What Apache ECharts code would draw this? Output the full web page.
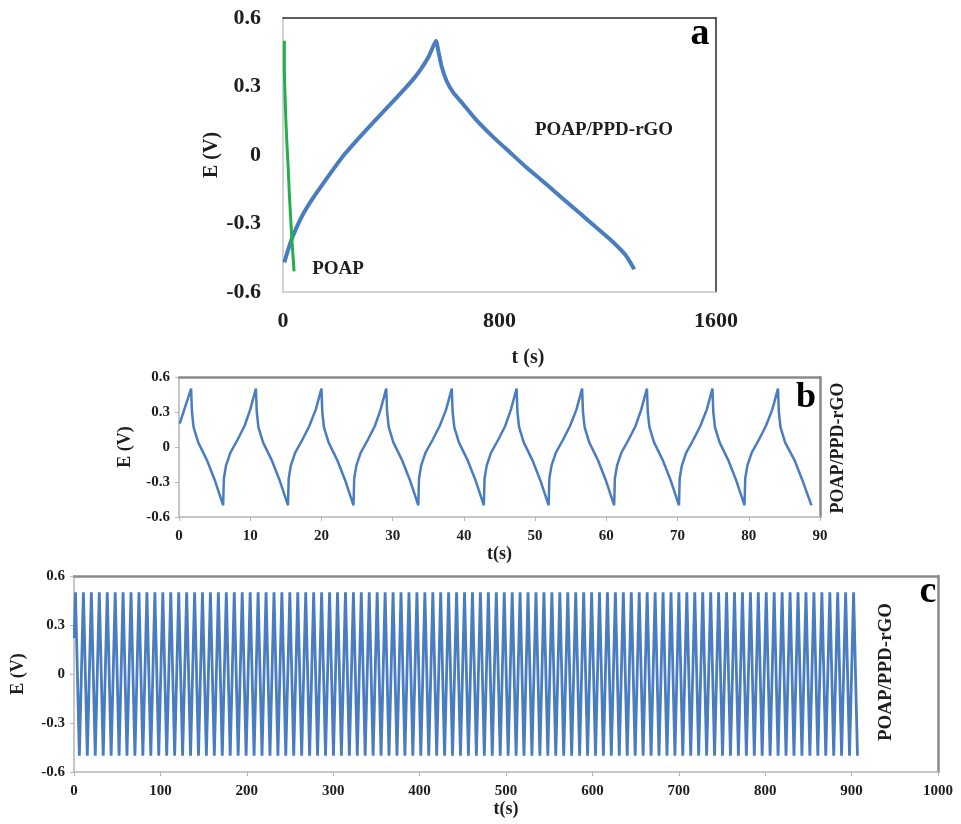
<!DOCTYPE html>
<html>
<head>
<meta charset="utf-8">
<title>Galvanostatic charge–discharge of POAP and POAP/PPD-rGO</title>
<script src="https://cdn.jsdelivr.net/npm/echarts@6/dist/echarts.min.js"></script>
<style>
  html, body { margin: 0; padding: 0; background: #ffffff; }
  #chart { width: 961px; height: 824px; }
</style>
</head>
<body>
<div id="chart"></div>
<script>
// (a) single charge–discharge curves, t in s, E in V
const aCompositeCurve = [
  [5, -0.47], [15, -0.43], [30, -0.375], [50, -0.318], [76, -0.255], [110, -0.19], [146, -0.129],
  [185, -0.064], [229, 0.005], [280, 0.074], [331, 0.14], [390, 0.214], [446, 0.285],
  [480, 0.33], [509, 0.375], [540, 0.435], [566, 0.5],
  [573, 0.461], [586, 0.389], [605, 0.323], [630, 0.272], [662, 0.228], [713, 0.155],
  [780, 0.075], [840, 0.01], [900, -0.055], [967, -0.122], [1030, -0.187], [1095, -0.253],
  [1160, -0.32], [1222, -0.384], [1265, -0.437], [1298, -0.5]
];
const aPoapCurve = [
  [5, 0.5], [5, 0.39], [7, 0.28], [10, 0.17], [14, 0.06], [19, -0.05],
  [23, -0.16], [28, -0.27], [34, -0.39], [41, -0.51]
];

// (b) first ten cycles
const bCurve = [
  [0.1, 0.20], [0.9, 0.35], [1.7, 0.50],
  [1.82, 0.30], [2.05, 0.17], [2.7, 0.04], [3.9, -0.11], [5.0, -0.28], [6.2, -0.50],
  [6.3, -0.27], [6.6, -0.16], [7.2, -0.05], [8.2, 0.06], [9.2, 0.18], [10.0, 0.32], [10.8, 0.50],
  [10.92, 0.30], [11.15, 0.17], [11.8, 0.04], [13.0, -0.11], [14.1, -0.28], [15.3, -0.50],
  [15.4, -0.27], [15.7, -0.16], [16.3, -0.05], [17.3, 0.06], [18.3, 0.18], [19.2, 0.32], [20.0, 0.50],
  [20.12, 0.30], [20.35, 0.17], [21.0, 0.04], [22.2, -0.11], [23.3, -0.28], [24.5, -0.50],
  [24.6, -0.27], [24.9, -0.16], [25.5, -0.05], [26.5, 0.06], [27.5, 0.18], [28.3, 0.32], [29.1, 0.50],
  [29.22, 0.30], [29.45, 0.17], [30.1, 0.04], [31.3, -0.11], [32.4, -0.28], [33.6, -0.50],
  [33.7, -0.27], [34.0, -0.16], [34.6, -0.05], [35.6, 0.06], [36.6, 0.18], [37.5, 0.32], [38.3, 0.50],
  [38.42, 0.30], [38.65, 0.17], [39.3, 0.04], [40.5, -0.11], [41.6, -0.28], [42.8, -0.50],
  [42.9, -0.27], [43.2, -0.16], [43.8, -0.05], [44.8, 0.06], [45.8, 0.18], [46.6, 0.32], [47.4, 0.50],
  [47.52, 0.30], [47.75, 0.17], [48.4, 0.04], [49.6, -0.11], [50.7, -0.28], [51.9, -0.50],
  [52.0, -0.27], [52.3, -0.16], [52.9, -0.05], [53.9, 0.06], [54.9, 0.18], [55.8, 0.32], [56.6, 0.50],
  [56.72, 0.30], [56.95, 0.17], [57.6, 0.04], [58.8, -0.11], [59.9, -0.28], [61.1, -0.50],
  [61.2, -0.27], [61.5, -0.16], [62.1, -0.05], [63.1, 0.06], [64.1, 0.18], [64.9, 0.32], [65.7, 0.50],
  [65.82, 0.30], [66.05, 0.17], [66.7, 0.04], [67.9, -0.11], [69.0, -0.28], [70.2, -0.50],
  [70.3, -0.27], [70.6, -0.16], [71.2, -0.05], [72.2, 0.06], [73.2, 0.18], [74.1, 0.32], [74.9, 0.50],
  [75.02, 0.30], [75.25, 0.17], [75.9, 0.04], [77.1, -0.11], [78.2, -0.28], [79.4, -0.50],
  [79.5, -0.27], [79.8, -0.16], [80.4, -0.05], [81.4, 0.06], [82.4, 0.18], [83.3, 0.32], [84.1, 0.50],
  [84.22, 0.30], [84.45, 0.17], [85.1, 0.04], [86.4, -0.11], [87.5, -0.28], [88.8, -0.50]
];

// (c) long-term cycling: turning points of each cycle
const cStart = [0.3, 0.22];
const cPeakTimes = [
  1.7, 10.9, 20.1, 29.3, 38.5, 47.7, 56.8, 66.0, 75.2, 84.4,
  93.6, 102.8, 112.0, 121.2, 130.4, 139.6, 148.7, 157.9, 167.1, 176.3,
  185.5, 194.7, 203.9, 213.1, 222.3, 231.5, 240.6, 249.8, 259.0, 268.2,
  277.4, 286.6, 295.8, 305.0, 314.2, 323.4, 332.5, 341.7, 350.9, 360.1,
  369.3, 378.5, 387.7, 396.9, 406.1, 415.3, 424.4, 433.6, 442.8, 452.0,
  461.2, 470.4, 479.6, 488.8, 498.0, 507.2, 516.3, 525.5, 534.7, 543.9,
  553.1, 562.3, 571.5, 580.7, 589.9, 599.1, 608.2, 617.4, 626.6, 635.8,
  645.0, 654.2, 663.4, 672.6, 681.8, 691.0, 700.1, 709.3, 718.5, 727.7,
  736.9, 746.1, 755.3, 764.5, 773.7, 782.9, 792.0, 801.2, 810.4, 819.6,
  828.8, 838.0, 847.2, 856.4, 865.6, 874.8, 883.9, 893.1, 902.3
];
const cTroughTimes = [
  6.2, 15.4, 24.6, 33.8, 43.0, 52.2, 61.3, 70.5, 79.7, 88.9,
  98.1, 107.3, 116.5, 125.7, 134.9, 144.1, 153.2, 162.4, 171.6, 180.8,
  190.0, 199.2, 208.4, 217.6, 226.8, 236.0, 245.1, 254.3, 263.5, 272.7,
  281.9, 291.1, 300.3, 309.5, 318.7, 327.9, 337.0, 346.2, 355.4, 364.6,
  373.8, 383.0, 392.2, 401.4, 410.6, 419.8, 428.9, 438.1, 447.3, 456.5,
  465.7, 474.9, 484.1, 493.3, 502.5, 511.7, 520.8, 530.0, 539.2, 548.4,
  557.6, 566.8, 576.0, 585.2, 594.4, 603.6, 612.7, 621.9, 631.1, 640.3,
  649.5, 658.7, 667.9, 677.1, 686.3, 695.5, 704.6, 713.8, 723.0, 732.2,
  741.4, 750.6, 759.8, 769.0, 778.2, 787.4, 796.5, 805.7, 814.9, 824.1,
  833.3, 842.5, 851.7, 860.9, 870.1, 879.3, 888.4, 897.6, 906.8
];
const cPeakE = 0.5;
const cTroughE = -0.5;

const cCurve = [cStart];
cPeakTimes.forEach(function (t, i) {
  cCurve.push([t, cPeakE]);
  cCurve.push([cTroughTimes[i], cTroughE]);
});

const SERIF = "'Liberation Serif', 'DejaVu Serif', serif";
const INK = '#1e1e1e';
const BLUE = '#4a7dbf';
const GREEN = '#22b04a';

// plain numbers: no thousands separator, one decimal at most on E
function fmtT(v) { return String(Math.round(v)); }
function fmtE(v) { return String(Math.round(v * 10) / 10); }

function tickLabel(size, fmt, margin) {
  return { fontFamily: SERIF, fontWeight: 'bold', fontSize: size, color: INK, formatter: fmt, margin: margin };
}
function nameStyle(size) {
  return { fontFamily: SERIF, fontWeight: 'bold', fontSize: size, color: INK };
}
// frame edges that carry no labels (top / right of each panel)
function frameX(gridIndex, range, color, width) {
  return {
    type: 'value', gridIndex: gridIndex, position: 'top', min: range[0], max: range[1],
    axisLine: { show: true, onZero: false, lineStyle: { color: color, width: width } },
    axisTick: { show: false }, axisLabel: { show: false }, splitLine: { show: false }
  };
}
function frameY(gridIndex, color, width) {
  return {
    type: 'value', gridIndex: gridIndex, position: 'right', min: -0.6, max: 0.6,
    axisLine: { show: true, onZero: false, lineStyle: { color: color, width: width } },
    axisTick: { show: false }, axisLabel: { show: false }, splitLine: { show: false }
  };
}

const chart = echarts.init(document.getElementById('chart'), null, { renderer: 'canvas' });

const option = {
  backgroundColor: '#ffffff',
  animation: false,
  grid: [
    { left: 283, top: 18, width: 433, height: 274 },
    { left: 179, top: 377, width: 641, height: 140 },
    { left: 74, top: 576, width: 864, height: 196 }
  ],
  xAxis: [
    { // a
      type: 'value', gridIndex: 0, min: 0, max: 1600, interval: 800,
      axisLine: { show: true, onZero: false, lineStyle: { color: '#c4c4c4', width: 1.5 } },
      axisTick: { show: false },
      axisLabel: tickLabel(22, fmtT, 18),
      splitLine: { show: false }
    },
    { // b
      type: 'value', gridIndex: 1, min: 0, max: 90, interval: 10,
      axisLine: { show: true, onZero: false, lineStyle: { color: '#b5b5b5', width: 1.5 } },
      axisTick: { show: true, length: 4, lineStyle: { color: '#b5b5b5' } },
      axisLabel: tickLabel(15, fmtT, 12),
      splitLine: { show: false },
      name: 't(s)', nameLocation: 'middle', nameGap: 27, nameTextStyle: nameStyle(18)
    },
    { // c
      type: 'value', gridIndex: 2, min: 0, max: 1000, interval: 100,
      axisLine: { show: true, onZero: false, lineStyle: { color: '#b5b5b5', width: 1.5 } },
      axisTick: { show: true, length: 4, lineStyle: { color: '#b5b5b5' } },
      axisLabel: tickLabel(15, fmtT, 12),
      splitLine: { show: false },
      name: 't(s)', nameLocation: 'middle', nameGap: 28, nameTextStyle: nameStyle(18)
    },
    frameX(0, [0, 1600], '#2a2a2a', 1.5),
    frameX(1, [0, 90], '#8a8a8a', 2.5),
    frameX(2, [0, 1000], '#8a8a8a', 2.5)
  ],
  yAxis: [
    { // a
      type: 'value', gridIndex: 0, min: -0.6, max: 0.6, interval: 0.3,
      axisLine: { show: true, onZero: false, lineStyle: { color: '#c4c4c4', width: 1.5 } },
      axisTick: { show: false },
      axisLabel: tickLabel(22, fmtE, 22),
      splitLine: { show: false },
      name: 'E (V)', nameLocation: 'middle', nameRotate: 90, nameGap: 32, nameTextStyle: nameStyle(20)
    },
    { // b
      type: 'value', gridIndex: 1, min: -0.6, max: 0.6, interval: 0.3,
      axisLine: { show: true, onZero: false, lineStyle: { color: '#b5b5b5', width: 1.5 } },
      axisTick: { show: true, length: 4, lineStyle: { color: '#b5b5b5' } },
      axisLabel: tickLabel(15, fmtE, 9),
      splitLine: { show: false },
      name: 'E (V)', nameLocation: 'middle', nameRotate: 90, nameGap: 45, nameTextStyle: nameStyle(18)
    },
    { // c
      type: 'value', gridIndex: 2, min: -0.6, max: 0.6, interval: 0.3,
      axisLine: { show: true, onZero: false, lineStyle: { color: '#b5b5b5', width: 1.5 } },
      axisTick: { show: true, length: 4, lineStyle: { color: '#b5b5b5' } },
      axisLabel: tickLabel(15, fmtE, 9),
      splitLine: { show: false },
      name: 'E (V)', nameLocation: 'middle', nameRotate: 90, nameGap: 47, nameTextStyle: nameStyle(18)
    },
    frameY(0, '#2a2a2a', 1.5),
    frameY(1, '#8a8a8a', 2.5),
    frameY(2, '#8a8a8a', 2.5)
  ],
  series: [
    {
      name: 'POAP/PPD-rGO', type: 'line', xAxisIndex: 0, yAxisIndex: 0,
      data: aCompositeCurve, showSymbol: false, smooth: 0.2,
      lineStyle: { color: BLUE, width: 4 }, z: 3
    },
    {
      name: 'POAP', type: 'line', xAxisIndex: 0, yAxisIndex: 0,
      data: aPoapCurve, showSymbol: false, smooth: 0.2,
      lineStyle: { color: GREEN, width: 3 }, z: 4
    },
    {
      name: 'POAP/PPD-rGO (b)', type: 'line', xAxisIndex: 1, yAxisIndex: 1,
      data: bCurve, showSymbol: false, smooth: false,
      lineStyle: { color: BLUE, width: 2.5 }
    },
    {
      name: 'POAP/PPD-rGO (c)', type: 'line', xAxisIndex: 2, yAxisIndex: 2,
      data: cCurve, showSymbol: false, smooth: false, sampling: false,
      lineStyle: { color: BLUE, width: 2.8 }
    }
  ],
  graphic: [
    // panel a annotations
    { type: 'text', x: 528, y: 358, style: { text: 't (s)', font: "bold 20px " + SERIF, fill: INK, align: 'center', verticalAlign: 'middle' } },
    { type: 'text', x: 700, y: 34, style: { text: 'a', font: "bold 38px " + SERIF, fill: '#000', align: 'center', verticalAlign: 'middle' } },
    { type: 'text', x: 338, y: 269, style: { text: 'POAP', font: "bold 19px " + SERIF, fill: INK, align: 'center', verticalAlign: 'middle' } },
    { type: 'text', x: 604, y: 130, style: { text: 'POAP/PPD-rGO', font: "bold 19px " + SERIF, fill: INK, align: 'center', verticalAlign: 'middle' } },
    // panel b annotations
    { type: 'text', x: 806, y: 398, style: { text: 'b', font: "bold 36px " + SERIF, fill: '#000', align: 'center', verticalAlign: 'middle' } },
    { type: 'text', x: 838, y: 448, rotation: Math.PI / 2, style: { text: 'POAP/PPD-rGO', font: "bold 18px " + SERIF, fill: INK, align: 'center', verticalAlign: 'middle' } },
    // panel c annotations
    { type: 'text', x: 928, y: 592, style: { text: 'c', font: "bold 38px " + SERIF, fill: '#000', align: 'center', verticalAlign: 'middle' } },
    { type: 'text', x: 886, y: 672, rotation: Math.PI / 2, style: { text: 'POAP/PPD-rGO', font: "bold 19px " + SERIF, fill: INK, align: 'center', verticalAlign: 'middle' } }
  ]
};

chart.setOption(option);
</script>
</body>
</html>
